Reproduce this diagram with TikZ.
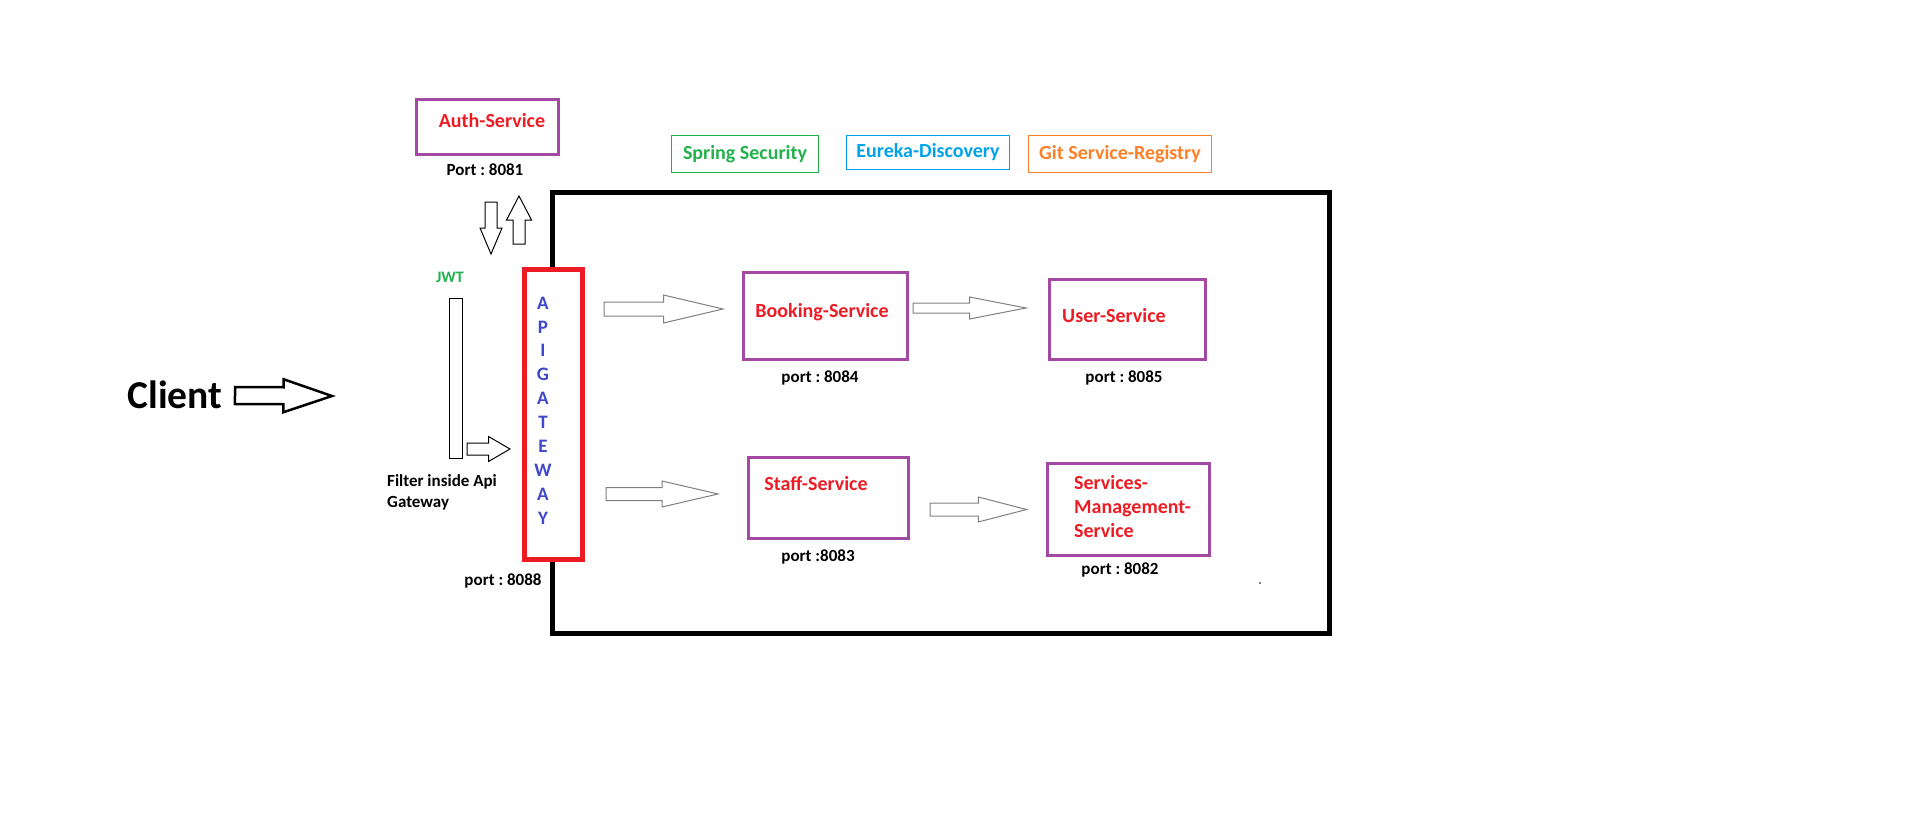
\documentclass[tikz,border=0pt]{standalone}
\usepackage{fontspec}
\setmainfont{Carlito}
\usetikzlibrary{calc}
\frenchspacing

\definecolor{svcred}{HTML}{ED1C24}
\definecolor{svcpurple}{HTML}{A349A4}
\definecolor{secgreen}{HTML}{22B14C}
\definecolor{eurekablue}{HTML}{00A2E8}
\definecolor{gitorange}{HTML}{FF7F27}
\definecolor{gwblue}{HTML}{3F48CC}
\definecolor{arrowgray}{HTML}{7F7F7F}

% block arrow: [style]{tail}{tip}{shaft half width}{head half width}
\newcommand{\blockarrow}[5][]{%
        \coordinate (ba-mid) at ($(#2)!0.5!(#3)$);
        \draw[#1] ($(#2)!#4!90:(#3)$) -- ($(ba-mid)!#4!90:(#3)$)
                -- ($(ba-mid)!#5!90:(#3)$) -- (#3)
                -- ($(ba-mid)!#5!-90:(#3)$) -- ($(ba-mid)!#4!-90:(#3)$)
                -- ($(#2)!#4!-90:(#3)$) -- cycle;
}

\tikzset{
        txt/.style={font=\bfseries\fontsize{#1}{#1}\selectfont, inner sep=0pt},
        txt/.default=17,
        svcbox/.style={draw=svcpurple, line width=3pt, inner sep=0pt},
        toolbox/.style={draw=#1, text=#1, line width=1pt, inner sep=0pt, font=\bfseries\fontsize{20}{20}\selectfont},
        svcname/.style={txt=20, text=svcred},
        portlabel/.style={txt=17},
        grayarrow/.style={draw=arrowgray, line width=1pt},
        blackarrow/.style={draw=black, line width=1pt}
}

\begin{document}
\begin{tikzpicture}[x=1pt, y=-1pt]
        \useasboundingbox (0,0) rectangle (1914,824);

        % outer frame
        \node[draw, line width=5pt, inner sep=0pt, minimum width=777, minimum height=441] (system) at (941,413) {};

        % auth service
        \node[svcbox, minimum width=142, minimum height=55] (auth) at (487,127.5) {};
        \node[svcname] (auth-t) at (492,121) {Auth-Service};
        \node[txt] (auth-p) at (485,170) {Port : 8081};

        % tools
        \node[toolbox=secgreen, minimum width=147.5, minimum height=36] (security) at (745,154) {Spring Security};
        \node[toolbox=eurekablue, minimum width=163, minimum height=33] (eureka) at (928,152.5) {Eureka-Discovery};
        \node[toolbox=gitorange, minimum width=183.5, minimum height=36] (git) at (1120,154) {Git Service-Registry};

        % api gateway
        \node[draw=svcred, fill=white, line width=5pt, inner sep=0pt, minimum width=58, minimum height=290] (gw) at (553,414) {};
        \foreach \l [count=\i from 0] in {A,P,I,G,A,T,E,W,A,Y}
                \node[txt=19, text=gwblue] (gw-\i) at (543,303+23.9*\i) {\l};
        \node[txt] (gw-p) at (503,581) {port : 8088};

        % jwt filter
        \node[txt=16, text=secgreen] (jwt) at (450,277) {JWT};
        \node[draw, line width=1pt, inner sep=0pt, minimum width=13, minimum height=160] (filter) at (455.5,378) {};
        \node[txt, align=left, anchor=west, font=\bfseries\fontsize{17}{21}\selectfont] (filter-t) at (387,492.5) {Filter inside Api\\Gateway};

        % client
        \node[txt=39.5] (client) at (175,395) {Client};

        % services
        \node[svcbox, minimum width=164, minimum height=87] (booking) at (825,315.5) {};
        \node[svcname] (booking-t) at (822,312) {Booking-Service};
        \node[portlabel] (booking-p) at (820,378) {port : 8084};

        \node[svcbox, minimum width=156, minimum height=80] (user) at (1127,319) {};
        \node[svcname] (user-t) at (1114,316) {User-Service};
        \node[portlabel] (user-p) at (1124,378) {port : 8085};

        \node[svcbox, minimum width=160, minimum height=81] (staff) at (828,497.5) {};
        \node[svcname] (staff-t) at (816,484) {Staff-Service};
        \node[portlabel] (staff-p) at (818,557) {port :8083};

        \node[svcbox, minimum width=162, minimum height=92] (mgmt) at (1128,509) {};
        \node[svcname, align=left, anchor=west, font=\bfseries\fontsize{20}{24}\selectfont] (mgmt-t) at (1074,507) {Services-\\Management-\\Service};
        \node[portlabel] (mgmt-p) at (1120,570) {port : 8082};

        \fill (1260,583) circle (0.9);

        % arrow ends
        \coordinate (auth-down-s) at (491,202);
        \coordinate (auth-down-e) at (491,254);
        \coordinate (auth-up-s) at (519,244);
        \coordinate (auth-up-e) at (519,196);
        \coordinate (filter-s) at (467,449);
        \coordinate (filter-e) at (510,449);
        \coordinate (client-s) at (235,395.5);
        \coordinate (client-e) at (332,396);
        \coordinate (gw-booking-s) at (604,309);
        \coordinate (gw-booking-e) at (723,309);
        \coordinate (booking-user-s) at (913,308);
        \coordinate (booking-user-e) at (1026,308);
        \coordinate (gw-staff-s) at (606,494);
        \coordinate (gw-staff-e) at (718,494);
        \coordinate (staff-mgmt-s) at (930,509.5);
        \coordinate (staff-mgmt-e) at (1026.5,509.5);

        % arrows
        \blockarrow[blackarrow]{auth-down-s}{auth-down-e}{6pt}{11pt}
        \blockarrow[blackarrow]{auth-up-s}{auth-up-e}{6pt}{12.5pt}
        \blockarrow[blackarrow]{filter-s}{filter-e}{6pt}{12.5pt}
        \blockarrow[draw=black, line width=2.5pt]{client-s}{client-e}{8.5pt}{16.5pt}
        \blockarrow[grayarrow]{gw-booking-s}{gw-booking-e}{7pt}{14pt}
        \blockarrow[grayarrow]{booking-user-s}{booking-user-e}{5pt}{11pt}
        \blockarrow[grayarrow]{gw-staff-s}{gw-staff-e}{6.5pt}{13pt}
        \blockarrow[grayarrow]{staff-mgmt-s}{staff-mgmt-e}{6.5pt}{12.5pt}
\end{tikzpicture}
\end{document}
